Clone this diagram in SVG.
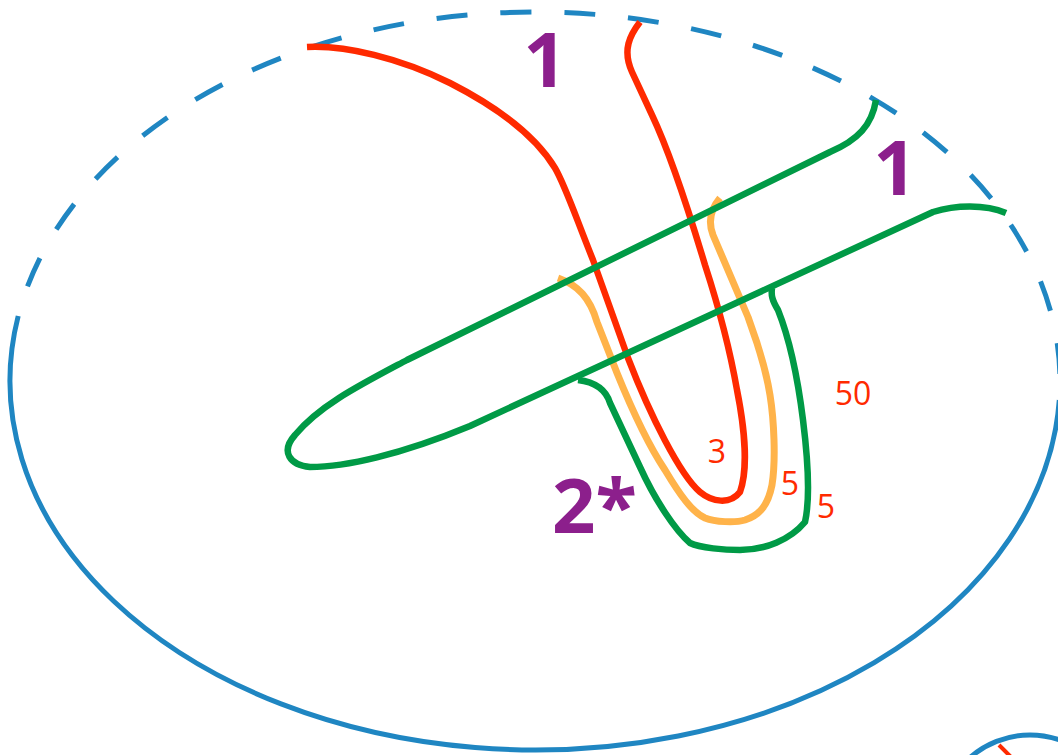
<svg xmlns="http://www.w3.org/2000/svg" width="1058" height="755" viewBox="0 0 1058 755">
<style>
.ell{fill:none;stroke:#1f86c2;stroke-width:5}
.dash{stroke-dasharray:31 33;stroke-dashoffset:33}
.red{fill:none;stroke:#ff2a00;stroke-width:6.5;stroke-linecap:butt;stroke-linejoin:round}
.org{fill:none;stroke:#ffb34a;stroke-width:7;stroke-linejoin:round}
.grn{fill:none;stroke:#009a46;stroke-width:6.5;stroke-linejoin:round}
.big{font-family:"Open Sans","DejaVu Sans",sans-serif;font-weight:bold;font-size:76px;fill:#8c1f8c}
.num{font-family:"Open Sans","DejaVu Sans",sans-serif;font-size:32px;fill:#ff2a00}
</style>
<rect width="1058" height="755" fill="#ffffff"/>
<g id="ellipse">
<path class="ell" d="M18.2,316 A525,369 0 1 0 1059.3,400"/>
<path class="ell dash" d="M18.2,316 A525,369 0 0 1 1059.3,400"/>
</g>
<g id="small-circle">
<circle cx="1030" cy="826" r="91" class="ell"/>
<line x1="999" y1="745" x2="1016" y2="762" stroke="#ff2a00" stroke-width="4"/>
</g>
<g id="connectors">
<path id="red" class="red" d="M307,47 C345,45 400,58 450,83 C495,106 535,135 555,168 C565,185 575,215 593,260 L628,358 C650,415 680,475 700,492 C712,502 730,505 740,492 C748,470 745,430 737,390 C730,350 718,305 705,265 C690,215 670,153 652,115 L632,72 C622,50 630,35 640,22"/>
<path id="orange" class="org" d="M558,278 C578,285 590,298 597,322 L617,373 C630,405 645,440 665,470 C680,495 692,512 705,518 C715,522 735,523 745,520 C760,515 768,505 772,485 C776,460 774,420 770,395 C766,370 762,360 757,343 L748,317 L713,235 C708,222 710,210 720,198"/>
<path id="green-main" class="grn" d="M876,100 C872,125 858,140 830,152 L407,360 C360,385 320,405 295,435 C280,452 290,465 310,467 C345,467 400,455 470,426 L933,212 C955,205 985,204 1006,213"/>
<path id="green-u" class="grn" d="M578,380 C595,382 606,390 610,403 L640,467 C655,500 675,530 690,543 C700,548 725,550 740,550 C765,550 790,540 805,522 C810,500 808,460 803,420 C798,380 790,340 778,310 C772,300 771,295 772,288"/>
</g>
<g id="labels">
<text class="big" x="545" y="87" text-anchor="middle">1</text>
<text class="big" x="895" y="195" text-anchor="middle">1</text>
<text class="big" x="552" y="533">2*</text>
<text class="num" x="717" y="463" text-anchor="middle">3</text>
<text class="num" x="790" y="495" text-anchor="middle">5</text>
<text class="num" x="826" y="518" text-anchor="middle">5</text>
<text class="num" x="853" y="405" text-anchor="middle">50</text>
</g>
</svg>
